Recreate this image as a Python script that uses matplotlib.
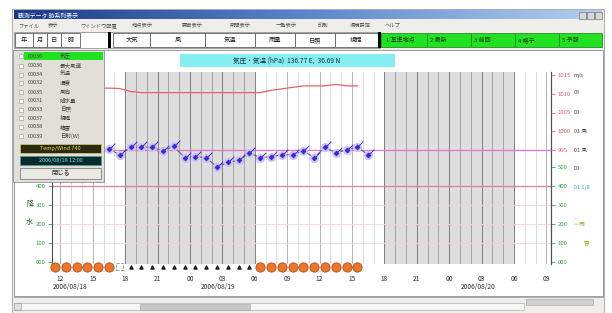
import numpy as np
import matplotlib.pyplot as plt
from matplotlib.patches import Rectangle
from matplotlib.path import Path
from matplotlib.colors import LinearSegmentedColormap

plt.rcParams['font.family'] = ['Noto Sans CJK JP', 'DejaVu Sans']

W, H = 612, 313

# hour 0 = 2006/08/18 00:00, hourly values are drawn in the middle of their hour
hours = [12, 13, 14, 15, 16, 17, 18, 19, 20, 21, 22, 23, 24, 25, 26,
         27, 28, 29, 30, 31, 32, 33, 34, 35, 36, 37, 38, 39, 40]
pressure = [1011.5, 1011.5, 1011.5, 1011.5, 1011.5, 1011.5, 1011.4, 1010.6,
            1010.3, 1010.3, 1010.3, 1010.3, 1010.3, 1010.3, 1010.3, 1010.3,
            1010.3, 1010.3, 1010.3, 1010.3, 1010.9, 1011.3, 1011.7, 1012.1,
            1012.1, 1012.1, 1012.5, 1012.1, 1012.1]
weather = list("SSSSSSCNNNNNNNNNNNNSSSSSSSSSS")   # S sunny, C cloudy, N clear night

temp_hours = [17, 18, 19, 20, 21, 22, 23, 24, 25, 26, 27, 28, 29,
              30, 31, 32, 33, 34, 35, 36, 37, 38, 39, 40, 41]
temperature = [24.1, 23.5, 24.3, 24.3, 24.3, 23.9, 24.4, 23.2, 23.3, 23.2, 22.2,
               22.7, 22.9, 23.7, 23.2, 23.3, 23.5, 23.5, 23.9, 23.2, 24.3, 23.7,
               24.0, 24.3, 23.5]

nights = [(18, 30), (42, 54)]
xtick_hours = list(range(12, 58, 3))
dates = [("2006/08/18", 12.9), ("2006/08/19", 26.6), ("2006/08/20", 50.7)]
precip_ticks = [0, 100, 200, 300, 400]
precip_ticks_right = [0, 100, 200, 300, 400, 500]
pressure_ticks = [995, 1000, 1005, 1010, 1015]

legend_rows = [("00030", "気圧"), ("00036", "最大風速"), ("00034", "気温"),
               ("00032", "湿度"), ("00035", "風向"), ("00031", "降水量"),
               ("00033", "日照"), ("00037", "視程"), ("00038", "積雪"),
               ("00039", "日射(W)")]
menu_items = [("ファイル", 18), ("表示", 48), ("ウィンドウ配置", 80), ("地点表示", 132),
              ("要素表示", 182), ("期間表示", 230), ("一覧表示", 276), ("印刷", 318),
              ("環境設定", 350), ("ヘルプ", 385)]
tool_buttons = [("年", 15, 33), ("月", 33, 47), ("日", 47, 61), ("時", 61, 80),
                ("大気", 113, 150), ("風", 150, 205), ("気温", 205, 255),
                ("雨量", 255, 295), ("日照", 295, 335), ("視程", 335, 378)]
green_items = ["1 基準地点", "2 最新", "3 前回", "4 格子", "5 予報"]

fig = plt.figure(figsize=(W / 100, H / 100), dpi=100)

# window chrome, in pixel coordinates
bg = fig.add_axes([0, 0, 1, 1], zorder=-1)
bg.set_xlim(0, W)
bg.set_ylim(H, 0)
bg.axis('off')
bg.add_patch(Rectangle((12, 9), 592, 304, fc='#efeeea', ec='#a0a0a0', lw=0.6))
grad = LinearSegmentedColormap.from_list('tb', ['#1a3a8a', '#5a86cc', '#b4cff0'])
bg.imshow(np.linspace(0, 1, 256)[None, :], extent=(14, 602, 19.5, 10.5),
          cmap=grad, aspect='auto', zorder=1)
bg.text(18, 15, "観測データ 時系列表示", color='white', fontsize=4.2, va='center', zorder=2)
for bx in (579, 587, 595):
    bg.add_patch(Rectangle((bx, 11.5), 7, 7, fc='#d8d8d8', ec='#606060', lw=0.4, zorder=2))
for name, mx in menu_items:
    bg.text(mx, 25.5, name, fontsize=3.8, color='#505050', va='center')
bg.add_patch(Rectangle((14, 32), 366, 16, fc='white', ec='#808080', lw=0.5))
for name, x0, x1 in tool_buttons:
    bg.add_patch(Rectangle((x0, 33), x1 - x0, 14, fc='white', ec='#606060', lw=0.6))
    bg.text((x0 + x1) / 2, 40, name, fontsize=4.5, color='#202020', ha='center', va='center')
bg.add_patch(Rectangle((108, 32), 3, 16, fc='black', lw=0))
bg.add_patch(Rectangle((378, 32), 3, 16, fc='black', lw=0))
bg.add_patch(Rectangle((381, 33), 221, 14, fc='#22e022', ec='#108010', lw=0.5))
for i, name in enumerate(green_items):
    bg.text(386 + i * 44, 40, name, fontsize=4.3, color='#0a3a0a', va='center')
    if i:
        bg.plot([383 + i * 44] * 2, [34, 46], color='#108010', lw=0.5)
bg.add_patch(Rectangle((14, 50), 589, 246, fc='white', ec='#909090', lw=0.6))
bg.add_patch(Rectangle((180, 54), 215, 13, fc='#86eef2', lw=0))
bg.text(287, 60.5, "気圧・気温 (hPa)  136.77 E,  36.69 N", fontsize=4.8,
        color='#103040', ha='center', va='center')
bg.plot([14, 603], [297, 297], color='#a0a0a0', lw=0.6)
bg.add_patch(Rectangle((14, 303), 510, 7, fc='#f6f6f6', ec='#b0b0b0', lw=0.5))
bg.add_patch(Rectangle((140, 303.5), 110, 6, fc='#c8c8c8', ec='#a0a0a0', lw=0.4))
bg.add_patch(Rectangle((14, 303), 7, 7, fc='#e0e0e0', ec='#909090', lw=0.4))
bg.add_patch(Rectangle((526, 298.5), 67, 6, fc='#d0d0d0', ec='#a0a0a0', lw=0.4))

# plot area
ax = fig.add_axes([52 / W, (H - 264) / H, 499 / W, 192 / H])
ax.set_facecolor('white')
ax.set_xlim(11.22, 57.43)
ax.set_ylim(-10.5, 1000)

for a, b in nights:
    ax.axvspan(a, b, color='#dedede', lw=0, zorder=0)
for h in range(12, 58):
    night = any(a <= h <= b for a, b in nights)
    if h % 3 == 0:
        col = '#6e6e6e' if night else '#a8a8a8'
    else:
        col = '#9a9a9a' if night else '#d6d6d6'
    ax.axvline(h, color=col, lw=0.6, zorder=1)
for v in (100, 200, 300):
    ax.axhline(v, color='#f1d4d4', lw=0.6, zorder=1)
ax.axhline(400, color='#d88090', lw=0.9, zorder=2)

xs = [h - 0.5 for h in hours]
sun = [x for x, w in zip(xs, weather) if w == 'S']
cloud = [x for x, w in zip(xs, weather) if w == 'C']
night_x = [x for x, w in zip(xs, weather) if w == 'N']
ax.scatter(sun, [-26] * len(sun), s=44, fc='#e8782e', ec='#b84a18', lw=0.6,
           clip_on=False, zorder=5)
ax.scatter(cloud, [-26] * len(cloud), s=26, marker='s', fc='none', ec='#909090',
           lw=0.6, linestyle='--', clip_on=False, zorder=5)
ax.scatter(night_x, [-26] * len(night_x), s=5, marker='^', color='#202020',
           clip_on=False, zorder=5)

ax.set_xticks(xtick_hours)
ax.set_xticklabels(["%02d" % (h % 24) for h in xtick_hours])
ax.tick_params(axis='x', length=0, pad=8, labelsize=4.8, labelcolor='#303030')
for label, t in dates:
    ax.text(t, -0.12, label, transform=ax.get_xaxis_transform(), fontsize=4.8,
            color='#303030', ha='center', va='center')

ax.set_yticks(precip_ticks)
ax.set_yticklabels(["%03d" % v for v in precip_ticks])
ax.tick_params(axis='y', length=3, width=0.6, pad=1.5, labelsize=4.3,
               colors='#3aa04a')
ax.set_ylabel("降\n水", rotation=0, fontsize=5, color='#2a5a2a', linespacing=2.6)
ax.yaxis.set_label_coords(-0.045, 0.2)
for s in ('top', 'bottom'):
    ax.spines[s].set_visible(False)
for s in ('left', 'right'):
    ax.spines[s].set_color('#505050')
    ax.spines[s].set_linewidth(0.8)

sec = ax.secondary_yaxis('right')
sec.set_yticks(precip_ticks_right)
sec.set_yticklabels(["%03d" % v for v in precip_ticks_right])
sec.tick_params(length=3, width=0.6, pad=2, labelsize=4.3, colors='#3aa04a')
sec.spines['right'].set_color('#505050')

# pressure
ax_p = ax.twinx()
ax_p.set_ylim(964.6, 1015.8)
ax_p.plot(xs, pressure, color='#e8606a', lw=0.9, zorder=3)
ax_p.set_yticks(pressure_ticks)
ax_p.tick_params(axis='y', length=3, width=0.6, pad=2, labelsize=4.3, colors='#e0606e')
for s in ax_p.spines.values():
    s.set_visible(False)

# temperature with wind arrows
ax_t = ax.twinx()
ax_t.set_ylim(12, 32.21)
ax_t.axhline(24, color='#e070d8', lw=0.9, zorder=2)
txs = [h - 0.5 for h in temp_hours]
ax_t.plot(txs, temperature, color='#606088', lw=0.8, zorder=3)
ax_t.scatter(txs, temperature, s=42, color='#cbc2f4', lw=0, zorder=4)
arrow = Path([(-0.35, 0), (0, 0.35), (0.35, 0), (0, -0.35), (-0.35, 0), (0, 0), (0.9, 0.9)],
             [Path.MOVETO, Path.LINETO, Path.LINETO, Path.LINETO, Path.CLOSEPOLY,
              Path.MOVETO, Path.LINETO])
ax_t.scatter(txs, temperature, s=70, marker=arrow, fc='#3a2ad0', ec='#3a2ad0',
             lw=0.7, zorder=5)
ax_t.set_yticks([])
for s in ax_t.spines.values():
    s.set_visible(False)

# legend panel and right-hand captions drawn on top
ov = fig.add_axes([0, 0, 1, 1], zorder=5)
ov.set_xlim(0, W)
ov.set_ylim(H, 0)
ov.axis('off')
ov.patch.set_alpha(0)
ov.add_patch(Rectangle((13, 50), 91, 132, fc='#e2dfd8', ec='#909090', lw=0.6))
row_y = [56, 65.5, 74.5, 83, 92, 101, 109.5, 118, 127, 136]
ov.add_patch(Rectangle((24, 52), 79, 8, fc='#22e022', lw=0))
for (code, name), y in zip(legend_rows, row_y):
    ov.add_patch(Rectangle((19, y - 2), 4, 4, fc='white', ec='#909090', lw=0.4))
    ov.text(28, y, code, fontsize=4.0, color='#404040', va='center')
    ov.text(60, y, name, fontsize=4.0, color='#404040', va='center')
ov.add_patch(Rectangle((20, 144), 81, 9, fc='#2a2a14', ec='#c8c060', lw=0.6))
ov.text(60.5, 148.5, "Temp/Wind 740", fontsize=4.0, color='#e8e070', ha='center', va='center')
ov.add_patch(Rectangle((20, 156), 81, 9, fc='#0a2a2a', ec='#40a0a0', lw=0.6))
ov.text(60.5, 160.5, "2006/08/18 12:00", fontsize=4.0, color='#70e0e0', ha='center', va='center')
ov.add_patch(Rectangle((20, 168), 81, 11, fc='#ebe9e3', ec='#808080', lw=0.6))
ov.text(60.5, 173.5, "閉じる", fontsize=4.5, color='#202020', ha='center', va='center')

captions = [(574, 75, "m/s", '#404040'), (574, 93, "05", '#404040'),
            (574, 112, "00", '#404040'), (574, 131, "01 風", '#604040'),
            (574, 150, "01 風", '#604040'), (574, 168, "00", '#404040'),
            (574, 187, "01 1/8", '#40a8d0'), (574, 219, "--", '#808080'),
            (574, 225, "~~雨", '#a8a830'), (584, 243, "雪", '#b0b030')]
for x, y, txt, col in captions:
    ov.text(x, y, txt, fontsize=4.0, color=col, va='center')

fig.savefig("out.png", dpi=100)
